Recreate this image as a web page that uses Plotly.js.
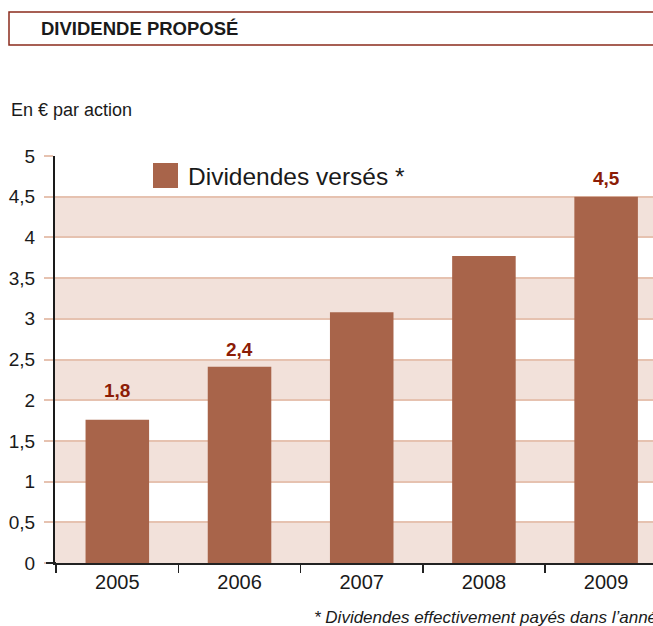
<!DOCTYPE html>
<html><head><meta charset="utf-8">
<script src="https://cdn.plot.ly/plotly-3.0.1.min.js"></script>
<style>body{margin:0;padding:0;background:#fff}#chart{width:653px;height:626px}</style>
</head><body><div id="chart"></div>
<script>
const years = ['2005','2006','2007','2008','2009'];
const dividends = [1.76, 2.41, 3.08, 3.77, 4.5];
const labelYears = ['2005','2006','2009'];
const labelValues = [1.8, 2.4, 4.5];
const labelTexts = ['1,8','2,4','4,5'];
const yTicks = [0,0.5,1,1.5,2,2.5,3,3.5,4,4.5,5];
const yTickText = ['0','0,5','1','1,5','2','2,5','3','3,5','4','4,5','5'];

const FONT = '"Liberation Sans Narrow", "Liberation Sans", Arial, sans-serif';
const BAR = '#a8644a';
const BAND = '#f2e1da';
const GRID = '#e6c2b0';
const LABEL = '#8c1c06';

// pixel -> paper helpers (plot area: x 55..653, y 156..563)
const L = 55, R = 653, T = 156, B = 563;
const px = v => (v - L) / (R - L);
const py = v => (B - v) / (B - T);

const shapes = [];
for (let i = 0; i + 1 < yTicks.length; i += 2) {
  shapes.push({type:'rect', xref:'paper', yref:'y', x0:0, x1:1, y0:yTicks[i], y1:yTicks[i+1],
    fillcolor:BAND, line:{width:0}, layer:'below'});
}
// title box
shapes.push({type:'rect', xref:'paper', yref:'paper', x0:px(9), x1:px(700), y0:py(45), y1:py(12),
  fillcolor:'rgba(0,0,0,0)', line:{color:'#8b2b1c', width:1.5}});
// legend swatch
shapes.push({type:'rect', xref:'paper', yref:'paper', x0:px(153), x1:px(178), y0:py(188), y1:py(163),
  fillcolor:BAR, line:{width:0}});
// x axis line extension to the left of the y axis
shapes.push({type:'line', xref:'paper', yref:'paper', x0:px(46), x1:px(56), y0:0, y1:0,
  line:{color:'#222', width:2}});

const annotations = [
  {xref:'paper', yref:'paper', x:px(39), y:py(29), xanchor:'left', yanchor:'middle', showarrow:false,
   text:'<b>DIVIDENDE PROPOSÉ</b>', font:{family:FONT, size:18.5, color:'#1a1a1a'}},
  {xref:'paper', yref:'paper', x:px(9), y:py(110), xanchor:'left', yanchor:'middle', showarrow:false,
   text:'En € par action', font:{family:FONT, size:18, color:'#1a1a1a'}},
  {xref:'paper', yref:'paper', x:px(186), y:py(176), xanchor:'left', yanchor:'middle', showarrow:false,
   text:'Dividendes versés *', font:{family:FONT, size:24.5, color:'#1a1a1a'}},
  {xref:'paper', yref:'paper', x:px(312), y:py(617), xanchor:'left', yanchor:'middle', showarrow:false,
   text:'<i>* Dividendes effectivement payés dans l’année</i>', font:{family:FONT, size:17, color:'#1a1a1a'}}
];
labelYears.forEach((yr, i) => {
  annotations.push({x:years.indexOf(yr), y:labelValues[i], xref:'x', yref:'y', yanchor:'bottom', showarrow:false,
    yshift: i === 0 ? 13 : 6,
    text:'<b>' + labelTexts[i] + '</b>', font:{family:FONT, size:19, color:LABEL}});
});

const data = [{
  type:'bar', x:years, y:dividends, width:0.52,
  marker:{color:BAR, line:{width:0}}, hoverinfo:'skip', showlegend:false
}];

const x0 = -0.51;
const layout = {
  width:653, height:626,
  margin:{l:L, r:0, t:T, b:626-B, pad:0},
  paper_bgcolor:'#fff', plot_bgcolor:'#fff',
  font:{family:FONT, color:'#1a1a1a'},
  showlegend:false,
  xaxis:{type:'category', range:[x0, x0 + (R - L)/122.2], tickson:'boundaries',
    ticks:'outside', ticklen:8, tickwidth:1.5, tickcolor:'#222',
    showline:true, linecolor:'#222', linewidth:2, showgrid:false,
    tickfont:{family:FONT, size:20, color:'#1a1a1a'}, fixedrange:true},
  yaxis:{range:[0,5], tickvals:yTicks, ticktext:yTickText,
    ticks:'outside', ticklen:9, tickwidth:2, tickcolor:GRID, ticklabelstandoff:5,
    showline:true, linecolor:'#1a1a1a', linewidth:2,
    showgrid:true, gridcolor:GRID, gridwidth:2, zeroline:false,
    tickfont:{family:FONT, size:19, color:'#1a1a1a'}, fixedrange:true},
  shapes:shapes, annotations:annotations
};
Plotly.newPlot('chart', data, layout, {staticPlot:true, displayModeBar:false});
</script></body></html>
